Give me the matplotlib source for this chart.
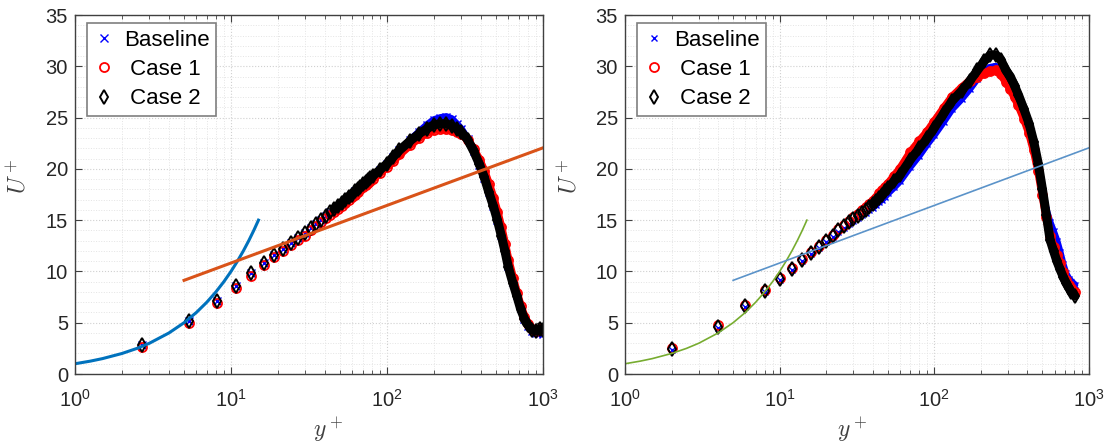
import matplotlib.pyplot as plt
from matplotlib.ticker import LogLocator, MultipleLocator, NullFormatter

plt.rcParams['font.family'] = ['Liberation Sans', 'DejaVu Sans']
plt.rcParams['mathtext.fontset'] = 'custom'
plt.rcParams['mathtext.rm'] = 'Liberation Sans'
plt.rcParams['mathtext.it'] = 'Liberation Sans:italic'

# ---- reference lines (viscous sublayer and log law) ----
yp_visc = [1, 1.25, 1.5, 2, 2.5, 3, 4, 5, 6, 7, 8, 9, 10, 11, 12, 13, 14, 15]
u_visc = [1, 1.25, 1.5, 2, 2.5, 3, 4, 5, 6, 7, 8, 9, 10, 11, 12, 13, 14, 15]
yp_log = [5, 1000]
u_log = [9.13, 22.05]

# ---- left panel ----
yp_left = [2.7, 5.4, 8.1, 10.8, 13.5, 16.2, 18.9, 21.6, 24.3, 27.0,
           29.7, 32.4, 35.1, 37.8, 40.5, 43.2, 45.9, 48.6, 51.3, 54.0,
           56.7, 59.4, 62.1, 64.8, 67.5, 70.2, 72.9, 75.6, 78.3, 81.0,
           90, 100, 110, 120, 140, 160, 180, 200, 220, 240, 260, 280, 300,
           330, 360, 390, 420, 450, 480, 510, 540, 570, 600, 640, 680, 720,
           760, 800, 850, 900, 950, 1000]
base_left = [2.8, 5.2, 7.1, 8.6, 9.8, 10.8, 11.6, 12.2, 12.8, 13.3,
             13.7, 14.2, 14.6, 15.0, 15.4, 15.8, 16.1, 16.4, 16.7, 17.0,
             17.3, 17.5, 17.8, 18.0, 18.2, 18.5, 18.7, 18.9, 19.1, 19.3,
             19.9, 20.5, 21.2, 21.8, 22.8, 23.6, 24.3, 24.8, 25.0, 25.1, 24.9, 24.4, 23.9,
             22.9, 21.7, 20.4, 19.1, 17.7, 16.4, 15.0, 13.6, 12.1, 10.5, 9.0, 7.7, 6.4,
             5.4, 4.7, 4.2, 4.0, 4.0, 3.9]
case1_left = [2.6, 5.0, 6.9, 8.4, 9.6, 10.6, 11.4, 12.0, 12.6, 13.1,
              13.5, 14.0, 14.4, 14.8, 15.2, 15.5, 15.8, 16.1, 16.4, 16.7,
              17.0, 17.3, 17.5, 17.7, 18.0, 18.2, 18.4, 18.6, 18.8, 19.0,
              19.6, 20.2, 20.8, 21.4, 22.3, 23.0, 23.5, 23.8, 23.9, 23.9, 23.8, 23.6, 23.4,
              22.8, 21.9, 20.9, 19.8, 18.5, 17.2, 15.8, 14.3, 12.7, 11.1, 9.4, 7.9, 6.6,
              5.6, 4.9, 4.4, 4.2, 4.4, 4.4]
case2_left = [2.8, 5.2, 7.1, 8.6, 9.8, 10.8, 11.6, 12.2, 12.8, 13.3,
              13.7, 14.2, 14.6, 15.0, 15.4, 15.8, 16.1, 16.4, 16.7, 17.0,
              17.3, 17.5, 17.8, 18.0, 18.2, 18.5, 18.7, 18.9, 19.1, 19.3,
              19.9, 20.5, 21.2, 21.8, 22.7, 23.4, 23.9, 24.3, 24.4, 24.4, 24.2, 23.9, 23.6,
              22.8, 21.7, 20.5, 19.2, 17.7, 16.4, 15.0, 13.5, 12.0, 10.4, 8.9, 7.6, 6.3,
              5.4, 4.8, 4.3, 4.2, 4.4, 4.3]

# ---- right panel ----
yp_right = [2, 4, 6, 8, 10, 12, 14, 16, 18, 20, 22, 24, 26, 28, 30,
            32, 34, 36, 38, 40, 42, 44, 46, 48, 50,
            55, 60, 70, 80, 90, 100, 115, 130, 150, 170, 190, 210, 230, 250,
            270, 290, 310, 330, 350, 380, 410, 440, 470, 500, 530, 560, 590,
            620, 650, 680, 710, 740, 770, 810]
base_right = [2.3, 4.5, 6.5, 8.0, 9.2, 10.1, 11.0, 11.7, 12.3, 12.9, 13.4, 13.8, 14.2, 14.6, 14.9,
              15.2, 15.5, 15.7, 16.0, 16.2, 16.5, 16.8, 17.0, 17.3, 17.6,
              18.2, 18.8, 20.2, 21.3, 22.4, 23.3, 24.6, 25.8, 26.8, 27.8, 28.8, 29.5, 29.9, 30.0,
              29.7, 29.2, 28.6, 27.8, 27.0, 25.6, 24.0, 22.3, 20.2, 17.9, 16.0, 14.8, 13.9,
              13.0, 11.9, 10.7, 9.8, 9.3, 9.0, 8.7]
case1_right = [2.5, 4.8, 6.7, 8.2, 9.4, 10.3, 11.2, 11.9, 12.5, 13.1, 13.6, 14.1, 14.5, 14.9, 15.3,
               15.6, 16.0, 16.3, 16.6, 16.9, 17.2, 17.6, 17.9, 18.2, 18.5,
               19.3, 20.0, 21.6, 22.7, 23.6, 24.6, 25.9, 27.0, 27.9, 28.6, 29.0, 29.3, 29.5, 29.6,
               29.2, 28.5, 27.8, 27.0, 26.2, 24.9, 23.5, 21.8, 19.8, 17.5, 15.3, 13.5, 12.4,
               11.6, 10.8, 9.9, 9.2, 8.7, 8.4, 8.0]
case2_right = [2.4, 4.6, 6.6, 8.1, 9.3, 10.2, 11.1, 11.8, 12.4, 13.0, 13.5, 14.0, 14.4, 14.8, 15.1,
               15.4, 15.7, 16.0, 16.3, 16.6, 16.9, 17.2, 17.5, 17.8, 18.1,
               18.8, 19.4, 20.9, 22.0, 23.0, 24.0, 25.4, 26.6, 27.6, 28.6, 29.6, 30.5, 31.1, 31.1,
               30.6, 29.6, 29.0, 28.1, 27.2, 25.8, 24.4, 22.6, 20.5, 18.0, 15.5, 13.1, 12.0,
               11.0, 10.2, 9.5, 8.9, 8.4, 8.0, 7.6]

labels = ['Baseline', ' Case 1', ' Case 2']


def draw_series(ax, yp, series, start, big):
    styles = [dict(marker='x', color='b', ms=5 if not big else 5.5, mew=1.0, lw=5),
              dict(marker='o', color='r', ms=6.5, mew=1.3, lw=6),
              dict(marker='d', color='k', ms=7.5 if big else 7, mew=1.4, lw=6.5)]
    for u, st, lab in zip(series, styles, labels):
        # dense part of the profile forms a solid band of markers
        ax.plot(yp[start:], u[start:], '-', color=st['color'], lw=st['lw'],
                solid_capstyle='round', solid_joinstyle='round')
        ax.plot(yp, u, ls='none', marker=st['marker'], ms=st['ms'], mew=st['mew'],
                mec=st['color'], mfc='none', label=lab)


def style(ax, xlab_x):
    ax.set_xscale('log')
    ax.set_xlim(1, 1000)
    ax.set_ylim(0, 35)
    ax.set_yticks(range(0, 36, 5))
    ax.yaxis.set_minor_locator(MultipleLocator(1))
    ax.xaxis.set_minor_locator(LogLocator(base=10, subs=range(2, 10)))
    ax.xaxis.set_minor_formatter(NullFormatter())
    ax.tick_params(which='both', direction='in', top=True, right=True,
                   color='#404040', labelcolor='#262626', labelsize=14.5)
    ax.tick_params(which='major', length=5, width=0.8)
    ax.tick_params(axis='x', which='minor', length=3, width=0.6)
    ax.tick_params(axis='y', which='minor', length=0)
    ax.tick_params(axis='x', pad=11)
    ax.tick_params(axis='y', pad=5)
    ax.grid(which='major', ls=':', color='#d0d0d0', lw=0.8)
    ax.grid(which='minor', ls=':', color='#e4e4e4', lw=0.7)
    ax.set_axisbelow(True)
    for s in ax.spines.values():
        s.set_color('#404040')
        s.set_linewidth(1.0)
    ax.set_xlabel('$y^+$', fontsize=17, math_fontfamily='cm', color='#404040')
    ax.set_ylabel('$U^+$', fontsize=17, math_fontfamily='cm', color='#404040')
    ax.xaxis.set_label_coords(xlab_x, -0.115)
    ax.yaxis.set_label_coords(-0.095, 0.55)
    ax.legend(loc='upper left', bbox_to_anchor=(0.026, 0.978), borderaxespad=0,
              fontsize=16, fancybox=False, edgecolor='#7f7f7f', framealpha=1,
              handlelength=0.9, handletextpad=0.45, labelspacing=0.38, borderpad=0.3)
    ax.get_legend().get_frame().set_linewidth(1.2)


fig = plt.figure(figsize=(11.1, 4.42), dpi=100)
axL = fig.add_axes([75 / 1110, 68 / 442, 468 / 1110, 359 / 442])
axR = fig.add_axes([625 / 1110, 68 / 442, 464 / 1110, 359 / 442])

draw_series(axL, yp_left, [base_left, case1_left, case2_left], 16, True)
axL.plot(yp_visc, u_visc, color='#0072BD', lw=2.2)
axL.plot(yp_log, u_log, color='#D95319', lw=2.2)
style(axL, 0.54)

draw_series(axR, yp_right, [base_right, case1_right, case2_right], 19, False)
axR.plot(yp_visc, u_visc, color='#77AC30', lw=1.2)
axR.plot(yp_log, u_log, color='#5b93c9', lw=1.2)
style(axR, 0.49)

fig.savefig('out.png', dpi=100)
